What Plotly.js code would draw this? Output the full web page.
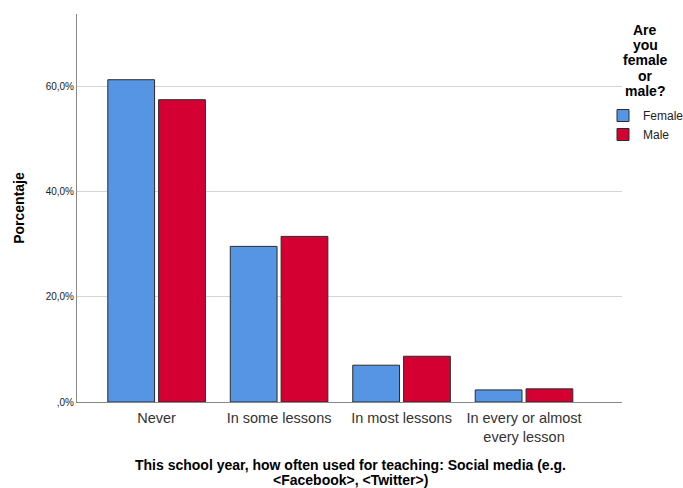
<!DOCTYPE html>
<html><head><meta charset="utf-8">
<script src="https://cdn.plot.ly/plotly-3.0.1.min.js"></script>
<style>html,body{margin:0;padding:0;background:#fff}#c{width:683px;height:488px}</style>
</head><body><div id="c"></div>
<script>
const categories = ["Never", "In some lessons", "In most lessons", "In every or almost<br>every lesson"];
const femaleValues = [61.3, 29.6, 7.0, 2.3];
const maleValues = [57.5, 31.5, 8.7, 2.5];
const yTickVals = [0, 20, 40, 60];
const yTickText = [",0%", "20,0%", "40,0%", "60,0%"];
const legendTitleLines = ["Are", "you", "female", "or", "male?"];
const xTitleLines = ["This school year, how often used for teaching: Social media (e.g.", "&lt;Facebook&gt;, &lt;Twitter&gt;)"];

const font = "Liberation Sans, Arial, sans-serif";
const traces = [
  {type: "bar", name: "Female", x: categories, y: femaleValues,
   marker: {color: "#5595e3", line: {color: "#2b2b2b", width: 1}}},
  {type: "bar", name: "Male", x: categories, y: maleValues,
   marker: {color: "#d50032", line: {color: "#2b2b2b", width: 1}}}
];
const annotations = [];
legendTitleLines.forEach((t, i) => annotations.push({
  xref: "paper", yref: "paper", x: (645 - 77) / 545, xanchor: "center",
  y: (402 - (30 + i * 15.2)) / 388, yanchor: "middle", text: "<b>" + t + "</b>",
  showarrow: false, font: {size: 14, color: "#000", family: font}}));
xTitleLines.forEach((t, i) => annotations.push({
  xref: "paper", yref: "paper", x: (350 - 77) / 545, xanchor: "center",
  y: (402 - (465 + i * 15)) / 388, yanchor: "middle", text: "<b>" + t + "</b>",
  showarrow: false, font: {size: 14, color: "#000", family: font}}));

const layout = {
  width: 683, height: 488,
  margin: {l: 77, r: 61, t: 14, b: 86, autoexpand: false},
  paper_bgcolor: "#fff", plot_bgcolor: "#fff",
  font: {family: font, color: "#222"},
  barmode: "group", bargap: 0.17, bargroupgap: 0.08,
  showlegend: true,
  legend: {xref: "container", yref: "container", x: 603 / 683, xanchor: "left",
    y: 0.793, yanchor: "top",
    font: {family: font, size: 12, color: "#222"}, tracegroupgap: 0,
    itemwidth: 30, bgcolor: "rgba(0,0,0,0)"},
  xaxis: {range: [-0.65, 3.8], showgrid: false, showline: true, linecolor: "#888",
    linewidth: 1, ticks: "", ticklabelstandoff: 3, tickfont: {size: 14.5, color: "#333"}},
  yaxis: {range: [0, 73.8], tickvals: yTickVals, ticktext: yTickText, showgrid: true,
    gridcolor: "#d4d4d4", gridwidth: 1, zeroline: false, showline: true, linecolor: "#888",
    ticks: "", tickfont: {size: 10, color: "#222"},
    title: {text: "<b>Porcentaje</b>", font: {size: 14, color: "#000"}, standoff: 17}},
  annotations: annotations
};
Plotly.newPlot("c", traces, layout, {displayModeBar: false, staticPlot: true});
</script></body></html>
